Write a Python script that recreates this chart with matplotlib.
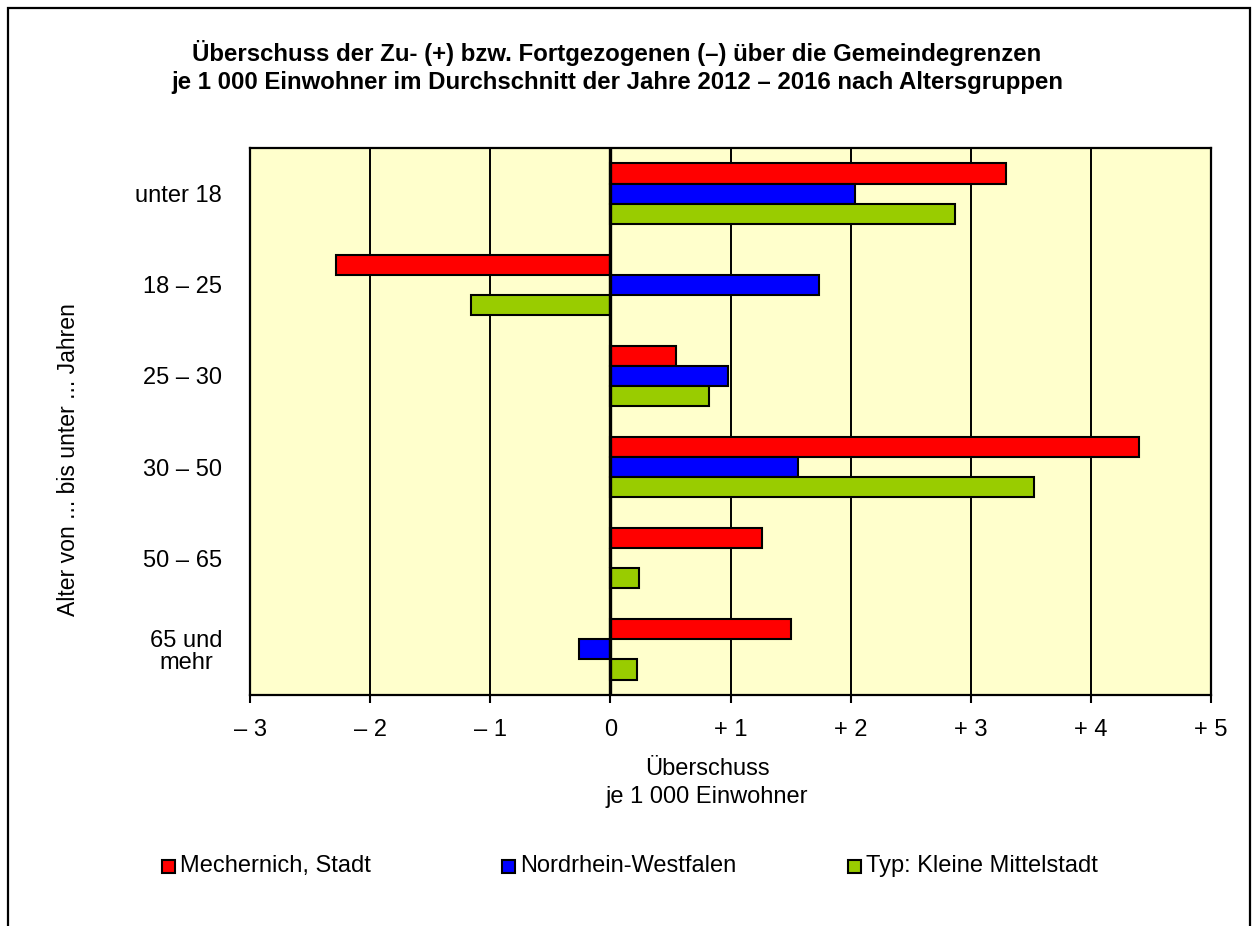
import matplotlib
matplotlib.use("Agg")
import matplotlib.pyplot as plt
from matplotlib.patches import Rectangle
import numpy as np

plt.rcParams['font.family'] = ['Liberation Sans', 'DejaVu Sans']

# Age groups (top to bottom) and net migration per 1 000 inhabitants
categories = ["unter 18", "18 – 25", "25 – 30", "30 – 50", "50 – 65", "65 und\nmehr"]
series_names = ["Mechernich, Stadt", "Nordrhein-Westfalen", "Typ: Kleine Mittelstadt"]
mechernich = [3.29, -2.28, 0.55, 4.40, 1.26, 1.50]
nrw = [2.04, 1.74, 0.98, 1.56, 0.00, -0.26]
kleine_mittelstadt = [2.87, -1.16, 0.82, 3.53, 0.24, 0.22]
x_ticks = [-3, -2, -1, 0, 1, 2, 3, 4, 5]
x_tick_labels = ["– 3", "– 2", "– 1", "0", "+ 1", "+ 2", "+ 3", "+ 4", "+ 5"]

colors = ["#FF0000", "#0000FF", "#99CC00"]
values = [mechernich, nrw, kleine_mittelstadt]

FS = 17
W, H = 1253, 926
fig = plt.figure(figsize=(W / 100, H / 100), dpi=100)
fig.patch.set_facecolor("white")

# outer frame around the whole graphic (bottom edge runs off the page)
fig.patches.append(Rectangle((8 / W, -0.05), (1250 - 8) / W, 1.05 - 8 / H,
                             transform=fig.transFigure, fill=False,
                             edgecolor="black", linewidth=1.6, zorder=0))

ax = fig.add_axes([250 / W, 1 - 695 / H, (1211 - 250) / W, (695 - 148) / H])
ax.set_facecolor("#FFFFCC")

n = len(categories)
y = np.arange(n)
bar_h = 0.22
offsets = [-bar_h, 0.0, bar_h]
for vals, col, off, name in zip(values, colors, offsets, series_names):
    ax.barh(y + off, vals, height=bar_h, color=col, edgecolor="black",
            linewidth=1.5, zorder=3, label=name)

ax.set_xlim(-3, 5)
ax.set_ylim(n - 0.5, -0.5)

# vertical grid lines and stronger zero line
for xt in x_ticks:
    if xt not in (-3, 5):
        ax.axvline(xt, color="black", linewidth=1.4 if xt != 0 else 2.4,
                   zorder=2 if xt != 0 else 4)

ax.set_xticks(x_ticks)
ax.set_xticklabels(x_tick_labels, fontsize=FS)
ax.tick_params(axis="x", direction="out", length=6, width=1.5, pad=11)
ax.set_yticks(y)
ax.set_yticklabels(categories, fontsize=FS, multialignment="center", linespacing=1.0)
ax.tick_params(axis="y", length=0, pad=20)
for sp in ax.spines.values():
    sp.set_linewidth(1.6)
    sp.set_zorder(5)

fig.text(707 / W, 1 - 758 / H, "Überschuss\nje 1 000 Einwohner", ha="center",
         va="top", fontsize=FS, linespacing=1.35)

fig.text(69 / W, 1 - 460 / H, "Alter von ... bis unter ... Jahren", rotation=90,
         ha="center", va="center", fontsize=16.6)

fig.text(617 / W, 1 - 67 / H,
         "Überschuss der Zu- (+) bzw. Fortgezogenen (–) über die Gemeindegrenzen\n"
         "je 1 000 Einwohner im Durchschnitt der Jahre 2012 – 2016 nach Altersgruppen",
         ha="center", va="center", fontsize=17.3, fontweight="bold", linespacing=1.25)

# legend row
legend_x = [162, 502, 848]
legend_y = 866
sq = 13
for lx, col, name in zip(legend_x, colors, series_names):
    fig.patches.append(Rectangle((lx / W, 1 - (legend_y + sq / 2) / H), sq / W, sq / H,
                                 transform=fig.transFigure, facecolor=col,
                                 edgecolor="black", linewidth=1.5))
    fig.text((lx + sq + 5) / W, 1 - legend_y / H, name, ha="left", va="center", fontsize=FS)

fig.savefig("out.png", dpi=100)
